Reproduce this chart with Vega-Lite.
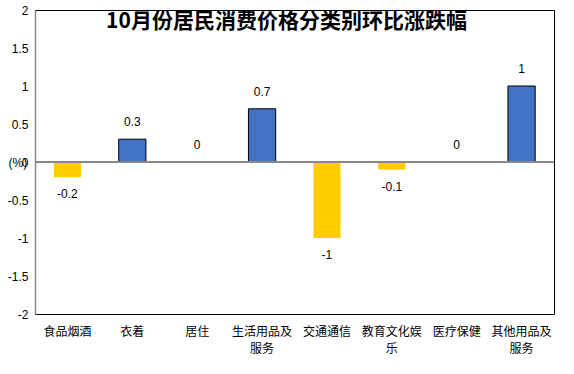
{
  "$schema": "https://vega.github.io/schema/vega-lite/v6.json",
  "width": 519,
  "height": 304,
  "autosize": {"type": "none"},
  "padding": {"left": 35, "right": 20, "top": 10, "bottom": 60},
  "background": "white",
  "config": {
    "view": {"stroke": "#000000", "strokeWidth": 1},
    "font": "Noto Sans CJK SC"
  },
  "datasets": {
    "bars": [
      {"category": "食品烟酒", "value": -0.2},
      {"category": "衣着", "value": 0.3},
      {"category": "居住", "value": 0},
      {"category": "生活用品及服务", "value": 0.7},
      {"category": "交通通信", "value": -1},
      {"category": "教育文化娱乐", "value": -0.1},
      {"category": "医疗保健", "value": 0},
      {"category": "其他用品及服务", "value": 1}
    ],
    "heading": [
      {"title": "10月份居民消费价格分类别环比涨跌幅", "level": 1.71}
    ]
  },
  "data": {"name": "bars"},
  "encoding": {
    "x": {
      "field": "category",
      "type": "nominal",
      "sort": null,
      "scale": {"paddingInner": 0.58, "paddingOuter": 0.29},
      "axis": {
        "title": null,
        "orient": "bottom",
        "domain": false,
        "ticks": false,
        "labelAngle": 0,
        "labelPadding": 12,
        "labelBaseline": "top",
        "labelFontSize": 12,
        "labelColor": "#000000",
        "labelFont": "Noto Sans CJK SC",
        "labelLineHeight": 17,
        "labelExpr": "datum.label == '生活用品及服务' ? ['生活用品及','服务'] : datum.label == '教育文化娱乐' ? ['教育文化娱','乐'] : datum.label == '其他用品及服务' ? ['其他用品及','服务'] : datum.label"
      }
    },
    "y": {
      "field": "value",
      "type": "quantitative",
      "scale": {"domain": [-2, 2], "nice": false},
      "axis": {
        "values": [-2, -1.5, -1, -0.5, 0, 0.5, 1, 1.5, 2],
        "labelExpr": "'' + datum.value",
        "grid": false,
        "ticks": false,
        "domain": true,
        "domainColor": "#888888",
        "domainWidth": 1.5,
        "labelPadding": 7,
        "labelFontSize": 12,
        "labelFont": "Liberation Sans",
        "labelColor": "#000000",
        "title": "(%)",
        "titleAngle": 0,
        "titleFont": "Liberation Sans",
        "titleFontSize": 12,
        "titleFontWeight": "normal",
        "titleColor": "#000000",
        "titleX": -27,
        "titleY": 152,
        "titleBaseline": "middle",
        "titleAlign": "left"
      }
    }
  },
  "layer": [
    {
      "mark": {"type": "bar", "strokeWidth": 1},
      "encoding": {
        "color": {
          "condition": {"test": "datum.value >= 0", "value": "#4472C4"},
          "value": "#FFCC00"
        },
        "stroke": {
          "condition": {"test": "datum.value >= 0", "value": "#000000"},
          "value": null
        }
      }
    },
    {
      "transform": [{"filter": "datum.value >= 0"}],
      "mark": {"type": "text", "dy": -17, "fontSize": 12, "font": "Liberation Sans", "color": "#000000"},
      "encoding": {"text": {"field": "value", "type": "nominal"}}
    },
    {
      "transform": [{"filter": "datum.value < 0"}],
      "mark": {"type": "text", "dy": 17, "fontSize": 12, "font": "Liberation Sans", "color": "#000000"},
      "encoding": {"text": {"field": "value", "type": "nominal"}}
    },
    {
      "mark": {"type": "rule", "color": "#888888", "strokeWidth": 1.5},
      "encoding": {"y": {"datum": 0}, "x": {"value": 0}, "x2": {"value": 519}}
    },
    {
      "data": {"name": "heading"},
      "mark": {
        "type": "text",
        "x": {"expr": "width / 2"},
        "dx": -8,
        "baseline": "bottom",
        "align": "center",
        "fontSize": 21,
        "fontWeight": "bold",
        "font": "Noto Sans CJK SC",
        "color": "#000000"
      },
      "encoding": {
        "x": null,
        "y": {"field": "level", "type": "quantitative"},
        "text": {"field": "title", "type": "nominal"}
      }
    }
  ]
}
